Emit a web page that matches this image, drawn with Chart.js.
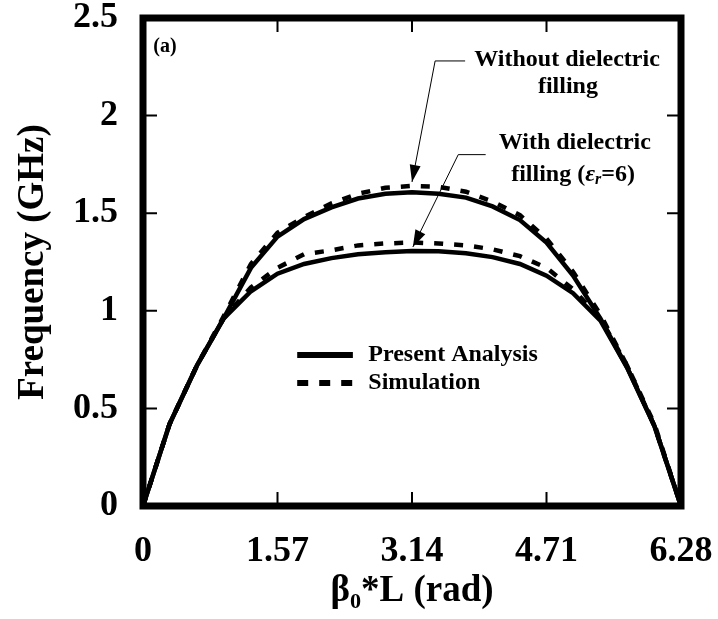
<!DOCTYPE html>
<html>
<head>
<meta charset="utf-8">
<script src="https://cdn.jsdelivr.net/npm/chart.js@4"></script>
<style>
  html, body { margin: 0; padding: 0; background: #fff; }
</style>
</head>
<body>
<canvas id="chart" width="718" height="619"></canvas>
<script>
// beta0*L (rad)
var betaL = [0, 0.31, 0.63, 0.94, 1.26, 1.57, 1.88, 2.2, 2.51, 2.83, 3.14, 3.45, 3.77, 4.08, 4.4, 4.71, 5.02, 5.34, 5.65, 5.97, 6.28];
// frequency (GHz)
var withoutAnalysis = [0, 0.42, 0.72, 0.96, 1.22, 1.38, 1.47, 1.53, 1.575, 1.6, 1.607, 1.6, 1.58, 1.535, 1.465, 1.35, 1.18, 0.96, 0.71, 0.41, 0];
var withoutSim      = [0, 0.42, 0.72, 0.97, 1.24, 1.4, 1.48, 1.55, 1.6, 1.63, 1.64, 1.635, 1.61, 1.56, 1.49, 1.37, 1.2, 0.98, 0.72, 0.42, 0];
var withAnalysis    = [0, 0.42, 0.72, 0.96, 1.1, 1.19, 1.24, 1.27, 1.29, 1.3, 1.306, 1.305, 1.295, 1.275, 1.24, 1.18, 1.09, 0.95, 0.71, 0.41, 0];
var withSim         = [0, 0.42, 0.72, 0.96, 1.12, 1.22, 1.29, 1.31, 1.335, 1.345, 1.35, 1.345, 1.335, 1.315, 1.28, 1.22, 1.11, 0.96, 0.72, 0.41, 0];

var xTicks = [0, 1.57, 3.14, 4.71, 6.28];
var yTicks = [0, 0.5, 1, 1.5, 2, 2.5];

var SERIF = '"Liberation Serif", "Times New Roman", serif';

function pts(ys) {
  return betaL.map(function (x, i) { return { x: x, y: ys[i] }; });
}

function lineSet(label, ys, dashed) {
  return {
    label: label,
    data: pts(ys),
    showLine: true,
    borderColor: '#000',
    borderWidth: 4.5,
    borderDash: dashed ? [9, 11] : [],
    pointRadius: 0,
    tension: 0,
    fill: false
  };
}

// frame, inward ticks, legend and arrows
var extras = {
  id: 'extras',
  afterDatasetsDraw: function (chart) {
    var ctx = chart.ctx, a = chart.chartArea;
    var xs = chart.scales.x, ys = chart.scales.y;
    var px = function (v) { return xs.getPixelForValue(v); };
    var py = function (v) { return ys.getPixelForValue(v); };
    ctx.save();
    ctx.strokeStyle = '#000';
    ctx.fillStyle = '#000';

    // ticks
    ctx.lineWidth = 2;
    ctx.beginPath();
    xTicks.slice(1, -1).forEach(function (t) {
      var x = px(t);
      ctx.moveTo(x, a.bottom); ctx.lineTo(x, a.bottom - 14);
      ctx.moveTo(x, a.top); ctx.lineTo(x, a.top + 14);
    });
    yTicks.slice(1, -1).forEach(function (t) {
      var y = py(t);
      ctx.moveTo(a.left, y); ctx.lineTo(a.left + 14, y);
      ctx.moveTo(a.right, y); ctx.lineTo(a.right - 14, y);
    });
    ctx.stroke();

    // frame
    ctx.lineWidth = 7;
    ctx.strokeRect(a.left, a.top, a.right - a.left, a.bottom - a.top);

    // (a)
    ctx.font = 'bold 20px ' + SERIF;
    ctx.textAlign = 'left';
    ctx.textBaseline = 'middle';
    ctx.fillText('(a)', px(0.12), py(2.35));

    // legend
    ctx.lineWidth = 6;
    ctx.beginPath();
    ctx.moveTo(px(1.8), py(0.774)); ctx.lineTo(px(2.45), py(0.774));
    ctx.stroke();
    ctx.setLineDash([11, 11]);
    ctx.beginPath();
    ctx.moveTo(px(1.8), py(0.63)); ctx.lineTo(px(2.45), py(0.63));
    ctx.stroke();
    ctx.setLineDash([]);
    ctx.font = 'bold 24px ' + SERIF;
    ctx.fillText('Present Analysis', px(2.63), py(0.774));
    ctx.fillText('Simulation', px(2.63), py(0.63));

    // annotation labels
    ctx.textAlign = 'center';
    ctx.fillText('Without dielectric', px(4.95), py(2.285));
    ctx.fillText('filling', px(4.96), py(2.146));
    ctx.fillText('With dielectric', px(5.04), py(1.86));
    // "filling (εr=6)"
    var cy = py(1.696), cx = px(5.02);
    var parts = [
      ['filling (', 'bold 24px ' + SERIF, 0],
      ['\u03b5', 'italic bold 24px ' + SERIF, 0],
      ['r', 'italic bold 16px ' + SERIF, 5],
      ['=6)', 'bold 24px ' + SERIF, 0]
    ];
    var total = 0;
    parts.forEach(function (p) { ctx.font = p[1]; total += ctx.measureText(p[0]).width; });
    var x0 = cx - total / 2;
    ctx.textAlign = 'left';
    parts.forEach(function (p) {
      ctx.font = p[1];
      ctx.fillText(p[0], x0, cy + p[2]);
      x0 += ctx.measureText(p[0]).width;
    });

    // arrows
    function arrow(path) {
      ctx.lineWidth = 1;
      ctx.beginPath();
      ctx.moveTo(px(path[0][0]), py(path[0][1]));
      for (var i = 1; i < path.length; i++) ctx.lineTo(px(path[i][0]), py(path[i][1]));
      ctx.stroke();
      var tip = path[path.length - 1], prev = path[path.length - 2];
      var tx = px(tip[0]), ty = py(tip[1]);
      var ang = Math.atan2(ty - py(prev[1]), tx - px(prev[0]));
      var len = 17, half = 5.5;
      ctx.beginPath();
      ctx.moveTo(tx, ty);
      ctx.lineTo(tx - len * Math.cos(ang) + half * Math.sin(ang), ty - len * Math.sin(ang) - half * Math.cos(ang));
      ctx.lineTo(tx - len * Math.cos(ang) - half * Math.sin(ang), ty - len * Math.sin(ang) + half * Math.cos(ang));
      ctx.closePath();
      ctx.fill();
    }
    arrow([[3.76, 2.28], [3.41, 2.28], [3.14, 1.66]]);
    arrow([[4.0, 1.8], [3.68, 1.8], [3.15, 1.327]]);

    ctx.restore();
  }
};

new Chart(document.getElementById('chart').getContext('2d'), {
  type: 'scatter',
  data: {
    datasets: [
      lineSet('Present Analysis (without filling)', withoutAnalysis, false),
      lineSet('Simulation (without filling)', withoutSim, true),
      lineSet('Present Analysis (with filling)', withAnalysis, false),
      lineSet('Simulation (with filling)', withSim, true)
    ]
  },
  plugins: [extras],
  options: {
    responsive: false,
    animation: false,
    layout: { padding: { top: 18, right: 37, left: 0, bottom: 0 } },
    plugins: {
      legend: { display: false },
      tooltip: { enabled: false }
    },
    scales: {
      x: {
        type: 'linear',
        min: 0,
        max: 6.28,
        afterBuildTicks: function (s) { s.ticks = xTicks.map(function (v) { return { value: v }; }); },
        afterFit: function (s) { s.height = 113; s.paddingLeft = 0; s.paddingRight = 0; },
        grid: { display: false },
        border: { display: false },
        ticks: {
          color: '#000',
          padding: 16,
          maxRotation: 0,
          font: { family: SERIF, size: 36, weight: 'bold' },
          callback: function (v) { return String(v); }
        },
        title: {
          display: true,
          text: 'β₀*L (rad)',
          color: '#000',
          padding: { top: 0, bottom: 5 },
          font: { family: SERIF, size: 37, weight: 'bold' }
        }
      },
      y: {
        min: 0,
        max: 2.5,
        afterBuildTicks: function (s) { s.ticks = yTicks.map(function (v) { return { value: v }; }); },
        afterFit: function (s) { s.width = 143; s.paddingTop = 0; s.paddingBottom = 0; },
        grid: { display: false },
        border: { display: false },
        ticks: {
          color: '#000',
          padding: 17,
          font: { family: SERIF, size: 36, weight: 'bold' },
          callback: function (v) { return String(v); }
        },
        title: {
          display: true,
          text: 'Frequency (GHz)',
          color: '#000',
          padding: { top: 11, bottom: 0 },
          font: { family: SERIF, size: 37, weight: 'bold' }
        }
      }
    }
  }
});
</script>
</body>
</html>
